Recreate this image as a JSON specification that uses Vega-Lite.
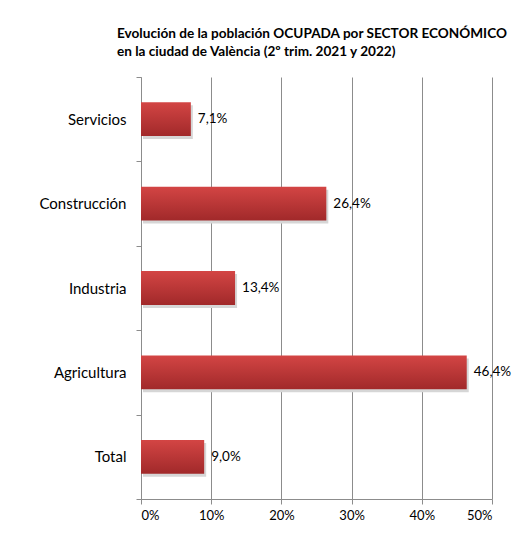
{
  "$schema": "https://vega.github.io/schema/vega-lite/v6.json",
  "autosize": "none",
  "width": 351,
  "height": 422,
  "padding": {"left": 141, "top": 77, "right": 26, "bottom": 37},
  "background": "white",
  "title": {
    "text": ["Evolución de la población OCUPADA por SECTOR ECONÓMICO", "en la ciudad de València (2º trim. 2021 y 2022)"],
    "anchor": "start",
    "frame": "group",
    "dx": -24,
    "offset": 11,
    "font": "Lato",
    "fontSize": 13.6,
    "fontWeight": "bold",
    "lineHeight": 18,
    "color": "#000000"
  },
  "config": {
    "locale": {
      "number": {"decimal": ",", "thousands": ".", "grouping": [3], "currency": ["", " €"]}
    },
    "view": {"stroke": null},
    "font": "Lato"
  },
  "data": {
    "values": [
      {"sector": "Servicios", "valor": 0.071},
      {"sector": "Construcción", "valor": 0.264},
      {"sector": "Industria", "valor": 0.134},
      {"sector": "Agricultura", "valor": 0.464},
      {"sector": "Total", "valor": 0.090}
    ]
  },
  "encoding": {
    "y": {
      "field": "sector",
      "type": "nominal",
      "sort": null,
      "scale": {"paddingInner": 0, "paddingOuter": 0},
      "axis": {
        "title": null,
        "tickBand": "extent",
        "tickSize": 5,
        "tickColor": "#8c8c8c",
        "domainColor": "#8c8c8c",
        "labelFont": "Lato",
        "labelFontSize": 15,
        "labelColor": "#000000",
        "labelPadding": 10,
        "grid": false
      }
    },
    "x": {
      "field": "valor",
      "type": "quantitative",
      "scale": {"domain": [0, 0.5], "nice": false},
      "axis": {
        "title": null,
        "format": "~%",
        "values": [0, 0.1, 0.2, 0.3, 0.4, 0.5],
        "grid": true,
        "gridColor": "#8c8c8c",
        "gridOpacity": 1,
        "tickSize": 5,
        "tickColor": "#8c8c8c",
        "domainColor": "#8c8c8c",
        "labelFont": "Lato",
        "labelFontSize": 13,
        "labelColor": "#000000",
        "labelPadding": 5
      }
    }
  },
  "layer": [
    {
      "mark": {"type": "bar", "height": {"band": 0.4}, "color": "#d6d6d6", "xOffset": 2, "yOffset": 3}
    },
    {
      "mark": {
        "type": "bar",
        "height": {"band": 0.4},
        "color": {
          "gradient": "linear",
          "x1": 0, "y1": 0, "x2": 0, "y2": 1,
          "stops": [
            {"offset": 0, "color": "#d34544"},
            {"offset": 1, "color": "#a1292a"}
          ]
        }
      }
    },
    {
      "mark": {"type": "text", "align": "left", "baseline": "middle", "dx": 7, "font": "Lato", "fontSize": 13.5, "color": "#000000"},
      "encoding": {
        "text": {"field": "valor", "type": "quantitative", "format": ".1%"}
      }
    }
  ]
}
